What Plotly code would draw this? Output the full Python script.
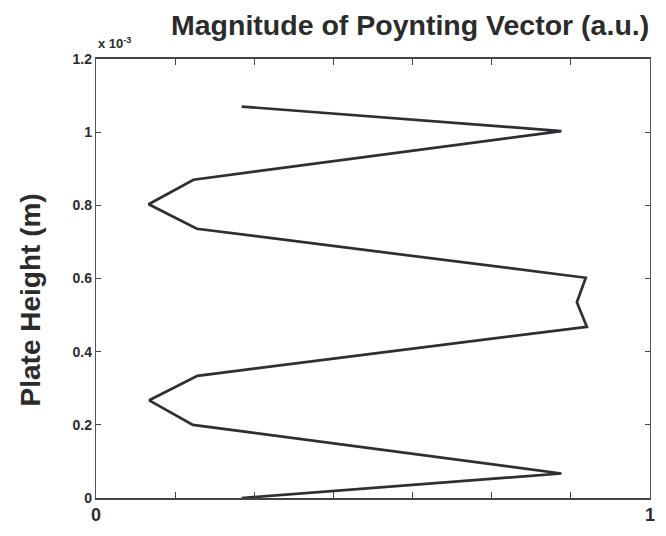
import plotly.graph_objects as go

# Data (x: magnitude, a.u.; y: plate height in units of 1e-3 m)
poynting_mag = [0.263, 0.840, 0.176, 0.095, 0.182, 0.884, 0.868, 0.886, 0.183, 0.096, 0.175, 0.840, 0.263]
plate_height = [1.070, 1.003, 0.870, 0.803, 0.736, 0.602, 0.535, 0.468, 0.334, 0.267, 0.200, 0.067, 0.000]

y_tick_vals = [0, 0.2, 0.4, 0.6, 0.8, 1.0, 1.2]
y_tick_text = ["0", "0.2", "0.4", "0.6", "0.8", "1", "1.2"]
x_tick_vals = [0, 1]
x_tick_text = ["0", "1"]
x_minor_vals = [1/7, 2/7, 3/7, 4/7, 5/7, 6/7]

title_text = "Magnitude of Poynting Vector (a.u.)"
y_title = "Plate Height (m)"

FONT = "Liberation Sans, Arial, sans-serif"
INK = "#2b2b2b"

fig = go.Figure()
fig.add_trace(go.Scatter(
    x=poynting_mag, y=plate_height, mode="lines",
    line=dict(color="#2e2e33", width=2.7),
    showlegend=False, hoverinfo="skip",
))

fig.update_layout(
    width=666, height=536,
    margin=dict(l=96, r=11, t=59, b=30),
    paper_bgcolor="white", plot_bgcolor="white",
    font=dict(family=FONT, color=INK),
    title=dict(text="<b>" + title_text + "</b>", xref="paper", x=0.567, xanchor="center",
               yref="container", y=1 - 25 / 536, yanchor="middle",
               font=dict(family=FONT, size=28.5, color=INK)),
)

fig.update_xaxes(
    range=[0, 1], tickmode="array", tickvals=x_tick_vals, ticktext=x_tick_text,
    ticks="inside", ticklen=6, tickwidth=1.3, tickcolor="#444",
    minor=dict(tickmode="array", tickvals=x_minor_vals, ticks="inside",
               ticklen=6, tickwidth=1.3, tickcolor="#444", showgrid=False),
    showline=True, linecolor="#444", linewidth=1.6, mirror="ticks",
    showgrid=False, zeroline=False,
    tickfont=dict(family=FONT, size=18, color=INK, weight="bold"),
)
fig.update_yaxes(
    range=[0, 1.2], tickvals=y_tick_vals, ticktext=y_tick_text,
    ticks="inside", ticklen=5, tickwidth=1.3, tickcolor="#444",
    showline=True, linecolor="#555", linewidth=1.4, mirror="ticks",
    showgrid=False, zeroline=False,
    tickfont=dict(family=FONT, size=14, color=INK, weight="bold"),
)

fig.add_annotation(
    text="<b>" + y_title + "</b>", xref="paper", yref="paper",
    x=0, xshift=-66, y=0.45, xanchor="center", yanchor="middle",
    textangle=-90, showarrow=False, font=dict(family=FONT, size=28, color=INK),
)
fig.add_annotation(
    text="<b>x 10<sup>-3</sup></b>", xref="paper", yref="paper",
    x=0, y=1.0, yshift=6, xanchor="left", yanchor="bottom",
    showarrow=False, font=dict(family=FONT, size=13, color=INK),
)

fig.write_html("out.html")
